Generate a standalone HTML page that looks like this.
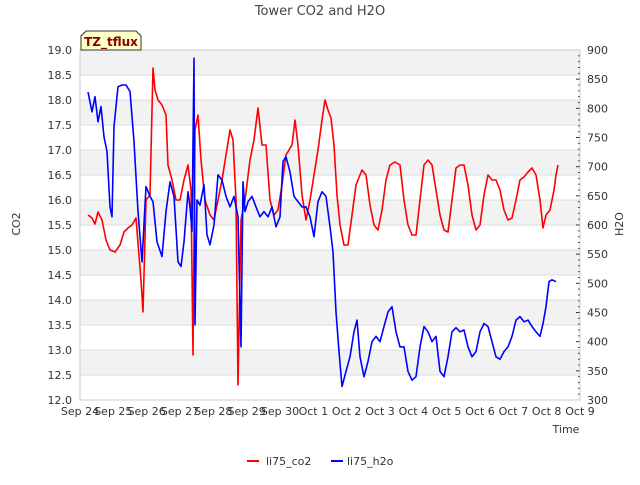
<!DOCTYPE html>
<html><head><meta charset="utf-8"><style>
body{margin:0;background:#fff;font-family:"Liberation Sans","DejaVu Sans",sans-serif}
</style></head><body>
<svg id="c" width="640" height="480" xmlns="http://www.w3.org/2000/svg" font-family="DejaVu Sans, Liberation Sans, sans-serif" font-size="11"></svg>
<script>
const xTickLabels=["Sep 24","Sep 25","Sep 26","Sep 27","Sep 28","Sep 29","Sep 30","Oct 1","Oct 2","Oct 3","Oct 4","Oct 5","Oct 6","Oct 7","Oct 8","Oct 9"];
const co2Ticks=[12.0,12.5,13.0,13.5,14.0,14.5,15.0,15.5,16.0,16.5,17.0,17.5,18.0,18.5,19.0];
const h2oTicks=[300,350,400,450,500,550,600,650,700,750,800,850,900];
const co2Days=[0.24,0.36,0.45,0.54,0.66,0.78,0.9,1.05,1.2,1.32,1.44,1.56,1.68,1.83,1.89,1.98,2.1,2.19,2.25,2.34,2.46,2.58,2.64,2.76,2.88,3.0,3.12,3.24,3.33,3.39,3.45,3.54,3.63,3.75,3.9,4.02,4.14,4.26,4.38,4.5,4.59,4.68,4.74,4.83,4.95,5.1,5.22,5.34,5.46,5.58,5.7,5.82,5.94,6.06,6.18,6.36,6.45,6.54,6.66,6.78,6.9,7.02,7.14,7.26,7.35,7.44,7.53,7.62,7.71,7.8,7.92,8.04,8.16,8.28,8.46,8.58,8.7,8.82,8.94,9.06,9.18,9.3,9.45,9.6,9.72,9.84,9.96,10.08,10.2,10.32,10.44,10.56,10.68,10.8,10.92,11.04,11.16,11.28,11.4,11.52,11.64,11.76,11.88,12.0,12.12,12.24,12.36,12.48,12.6,12.72,12.84,12.96,13.08,13.2,13.32,13.44,13.56,13.68,13.8,13.89,13.98,14.1,14.22,14.28,14.34];
const co2Vals=[15.7,15.64,15.52,15.76,15.6,15.2,15.0,14.96,15.1,15.36,15.44,15.5,15.64,14.4,13.76,16.0,16.1,18.64,18.2,18.0,17.9,17.7,16.7,16.4,16.0,16.0,16.4,16.7,16.2,12.9,17.4,17.7,16.8,16.0,15.7,15.6,16.0,16.4,16.9,17.4,17.2,16.0,12.3,15.6,16.0,16.8,17.2,17.84,17.1,17.1,16.0,15.7,15.8,16.3,16.9,17.1,17.6,17.1,16.1,15.6,16.0,16.5,17.0,17.6,18.0,17.8,17.64,17.1,16.1,15.5,15.1,15.1,15.7,16.3,16.6,16.5,15.9,15.5,15.4,15.8,16.4,16.7,16.76,16.7,16.0,15.5,15.3,15.3,16.0,16.7,16.8,16.7,16.2,15.7,15.4,15.36,16.0,16.64,16.7,16.7,16.3,15.7,15.4,15.5,16.1,16.5,16.4,16.4,16.2,15.8,15.6,15.64,16.0,16.4,16.46,16.56,16.64,16.5,16.0,15.44,15.7,15.8,16.2,16.5,16.7];
const h2oDays=[0.24,0.36,0.45,0.54,0.63,0.72,0.81,0.9,0.96,1.02,1.14,1.26,1.38,1.5,1.62,1.74,1.86,1.98,2.1,2.19,2.31,2.46,2.58,2.7,2.82,2.94,3.03,3.12,3.18,3.24,3.3,3.36,3.42,3.45,3.51,3.6,3.72,3.81,3.9,4.02,4.14,4.26,4.38,4.5,4.62,4.74,4.83,4.89,4.95,5.04,5.16,5.28,5.4,5.52,5.64,5.76,5.88,6.0,6.09,6.18,6.3,6.42,6.54,6.66,6.78,6.9,7.02,7.14,7.26,7.38,7.5,7.59,7.68,7.77,7.86,7.98,8.1,8.22,8.31,8.4,8.52,8.64,8.76,8.88,9.0,9.12,9.24,9.36,9.48,9.6,9.72,9.84,9.96,10.08,10.2,10.32,10.44,10.56,10.68,10.8,10.92,11.04,11.16,11.28,11.4,11.52,11.64,11.76,11.88,12.0,12.12,12.24,12.36,12.48,12.6,12.72,12.84,12.96,13.08,13.2,13.32,13.44,13.56,13.68,13.8,13.89,13.98,14.07,14.16,14.28];
const h2oVals=[828,794,820,777,803,751,726,631,614,769,837,840,840,829,743,623,537,666,649,640,571,546,623,674,649,537,529,571,614,657,631,589,886,429,643,634,669,583,566,600,686,677,649,631,649,614,391,674,623,640,649,631,614,623,614,631,597,614,709,717,691,649,640,631,631,614,580,640,657,649,597,554,451,383,323,349,374,417,437,374,340,366,400,409,400,426,451,460,417,391,391,349,334,340,391,426,417,400,409,349,340,374,417,424,417,420,391,374,383,417,431,426,400,374,370,383,391,409,437,443,434,437,426,417,409,431,460,503,506,503];

const L=80,R=580,T=50,B=400;
const xS=d=>L+d*(R-L)/15;
const yL=v=>B-(v-12)*(B-T)/7;
const yR=v=>B-(v-300)*(B-T)/600;
const svg=document.getElementById('c');
const NS="http://www.w3.org/2000/svg";
function mk(tag,attrs,parent){const e=document.createElementNS(NS,tag);for(const k in attrs)e.setAttribute(k,attrs[k]);(parent||svg).appendChild(e);return e;}

// bands
for(let i=0;i<14;i++){
  if(i%2===0){const r=mk('rect',{x:L,y:yL(19-i*0.5),width:R-L,height:25,fill:'#f2f2f2'});
  
  }
}
co2Ticks.forEach(v=>{
  const g=mk('line',{x1:L,x2:R,y1:yL(v),y2:yL(v),stroke:'#dcdcdc','stroke-width':1});
  
  
  const t=mk('text',{x:72,y:yL(v)+4,'text-anchor':'end',fill:'#333'});t.textContent=v.toFixed(1);
  
  
});
h2oTicks.forEach(v=>{
  const t=mk('text',{x:587,y:yR(v)+4,fill:'#333'});t.textContent=v;
  
  
});
for(let v=300;v<=900;v+=10){
  const big=v%50===0;
  mk('line',{x1:R,x2:R-(big?4:2),y1:yR(v),y2:yR(v),stroke:'#333','stroke-width':1});
}
xTickLabels.forEach((s,i)=>{
  const t=mk('text',{x:xS(i),y:415,'text-anchor':'middle',fill:'#333'});t.textContent=s;
  
  
});
const fr=mk('rect',{x:L,y:T,width:R-L,height:B-T,fill:'none',stroke:'#ccc'});



function line(days,vals,ys,color,name){
  const p=mk('polyline',{points:days.map((d,i)=>xS(d).toFixed(1)+','+ys(vals[i]).toFixed(1)).join(' '),fill:'none',stroke:color,'stroke-width':1.6,'stroke-linejoin':'round'});
  
  
}
line(co2Days,co2Vals,yL,'#ff0000','co2-line');
line(h2oDays,h2oVals,yR,'#0000ff','h2o-line');

function txt(s,attrs,name){const t=mk('text',attrs);t.textContent=s;return t;}
txt('Tower CO2 and H2O',{x:320,y:15,'text-anchor':'middle','font-size':13,fill:'#444'},'chart-title');
txt('Time',{x:566,y:433,'text-anchor':'middle',fill:'#333'},'x-axis-title');
txt('CO2',{x:20,y:224,'text-anchor':'middle',fill:'#333',transform:'rotate(-90 20 224)'},'co2-axis-title');
txt('H2O',{x:623,y:224,'text-anchor':'middle',fill:'#333',transform:'rotate(-90 623 224)'},'h2o-axis-title');
const bx=mk('path',{d:'M81,50 L81,36 L86,31 L136,31 L141,36 L141,50 Z',fill:'#ffffc8',stroke:'#333'});


txt('TZ_tflux',{x:111,y:46,'text-anchor':'middle',fill:'#8b0000','font-weight':'bold','font-size':12},'site-label');

const lg=mk('g',{});


mk('line',{x1:247,x2:259,y1:461,y2:461,stroke:'#ff0000','stroke-width':2},lg);
const t1=mk('text',{x:266,y:465,fill:'#333'},lg);t1.textContent='li75_co2';


mk('line',{x1:331,x2:343,y1:461,y2:461,stroke:'#0000ff','stroke-width':2},lg);
const t2=mk('text',{x:347,y:465,fill:'#333'},lg);t2.textContent='li75_h2o';


</script>
</body></html>
